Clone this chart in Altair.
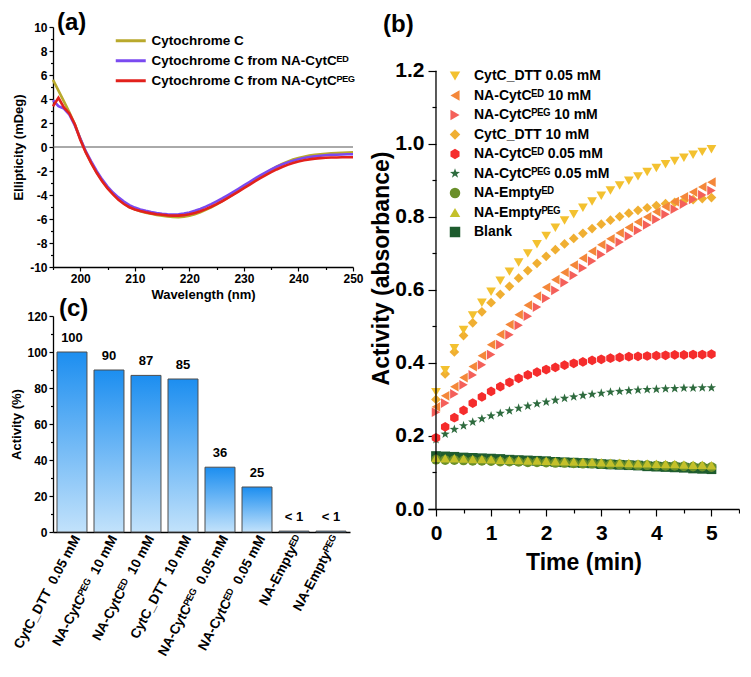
import altair as alt
import pandas as pd

FONT = "Liberation Sans"

# ---------------- Panel (a): CD spectra ----------------
wavelength_nm = list(range(195, 251))
cd_cytc = [5.6, 4.7, 3.8, 2.9, 1.9, 0.7, -0.4, -1.3, -2.1, -2.8,
           -3.4, -3.9, -4.35, -4.7, -5.0, -5.2, -5.35, -5.47, -5.57, -5.66,
           -5.73, -5.79, -5.83, -5.84, -5.8, -5.72, -5.6, -5.44, -5.24, -5.02,
           -4.78, -4.52, -4.24, -3.95, -3.65, -3.35, -3.05, -2.75, -2.45, -2.17,
           -1.9, -1.64, -1.42, -1.22, -1.05, -0.92, -0.81, -0.72, -0.65, -0.6,
           -0.56, -0.53, -0.5, -0.48, -0.46, -0.45]
cd_from_ed = [3.9, 3.4, 3.2, 2.7, 1.8, 0.7, -0.35, -1.2, -2.0, -2.7,
              -3.3, -3.8, -4.2, -4.55, -4.85, -5.05, -5.2, -5.32, -5.42, -5.5,
              -5.56, -5.6, -5.62, -5.6, -5.55, -5.45, -5.32, -5.16, -4.97, -4.76,
              -4.53, -4.29, -4.03, -3.76, -3.48, -3.2, -2.92, -2.64, -2.37, -2.11,
              -1.87, -1.65, -1.46, -1.29, -1.14, -1.02, -0.92, -0.84, -0.78, -0.73,
              -0.69, -0.66, -0.64, -0.62, -0.61, -0.6]
cd_from_peg = [3.4, 4.1, 3.3, 2.8, 1.9, 0.6, -0.45, -1.35, -2.15, -2.85,
               -3.45, -3.95, -4.4, -4.75, -5.02, -5.2, -5.33, -5.44, -5.53, -5.6,
               -5.65, -5.7, -5.72, -5.72, -5.68, -5.6, -5.5, -5.36, -5.18, -4.98,
               -4.76, -4.52, -4.26, -3.99, -3.71, -3.43, -3.15, -2.87, -2.6, -2.34,
               -2.1, -1.87, -1.67, -1.49, -1.34, -1.21, -1.11, -1.03, -0.97, -0.93,
               -0.9, -0.88, -0.87, -0.86, -0.85, -0.85]
a_series = ["Cytochrome C",
            "Cytochrome C from NA-CytC\u1d31\u1d30",
            "Cytochrome C from NA-CytC\u1d3e\u1d31\u1d33"]
a_colors = ["#B9A92C", "#7A4AF0", "#E2211C"]

# ---------------- Panel (b): kinetics ----------------
time_min = [round(i / 6, 4) for i in range(31)]
dtt_005 = [0.32, 0.38, 0.44, 0.49, 0.53, 0.565, 0.595, 0.625, 0.65, 0.675,
           0.70, 0.725, 0.748, 0.77, 0.79, 0.807, 0.825, 0.842, 0.858, 0.872,
           0.886, 0.899, 0.911, 0.923, 0.934, 0.944, 0.953, 0.962, 0.97, 0.978, 0.985]
ed_10 = [0.28, 0.31, 0.335, 0.36, 0.39, 0.42, 0.45, 0.478, 0.505, 0.532,
         0.558, 0.583, 0.607, 0.628, 0.648, 0.668, 0.687, 0.706, 0.724, 0.74,
         0.756, 0.771, 0.786, 0.8, 0.814, 0.828, 0.842, 0.855, 0.868, 0.882, 0.895]
peg_10 = [0.265, 0.29, 0.315, 0.34, 0.367, 0.395, 0.423, 0.45, 0.477, 0.503,
          0.528, 0.553, 0.577, 0.599, 0.62, 0.64, 0.66, 0.679, 0.697, 0.714,
          0.731, 0.747, 0.763, 0.778, 0.793, 0.807, 0.821, 0.835, 0.848, 0.86, 0.872]
dtt_10 = [0.30, 0.37, 0.43, 0.475, 0.51, 0.54, 0.565, 0.588, 0.61, 0.632,
          0.653, 0.673, 0.692, 0.71, 0.726, 0.741, 0.755, 0.768, 0.78, 0.791,
          0.801, 0.81, 0.818, 0.825, 0.831, 0.836, 0.84, 0.844, 0.847, 0.85, 0.853]
ed_005 = [0.195, 0.225, 0.25, 0.27, 0.29, 0.307, 0.322, 0.335, 0.347, 0.358,
          0.367, 0.375, 0.382, 0.388, 0.394, 0.399, 0.403, 0.407, 0.41, 0.413,
          0.415, 0.417, 0.418, 0.419, 0.42, 0.421, 0.422, 0.422, 0.423, 0.423, 0.424]
peg_005 = [0.19, 0.205, 0.218, 0.228, 0.238, 0.247, 0.255, 0.262, 0.269, 0.276,
           0.282, 0.288, 0.293, 0.298, 0.303, 0.307, 0.311, 0.314, 0.317, 0.32,
           0.322, 0.324, 0.326, 0.327, 0.328, 0.329, 0.33, 0.331, 0.331, 0.332, 0.332]
empty_ed = [0.135, 0.134, 0.134, 0.133, 0.132, 0.132, 0.131, 0.130, 0.130, 0.129,
            0.128, 0.128, 0.127, 0.126, 0.126, 0.125, 0.124, 0.124, 0.123, 0.122,
            0.122, 0.121, 0.120, 0.120, 0.119, 0.118, 0.118, 0.117, 0.116, 0.116, 0.115]
empty_peg = [0.14, 0.139, 0.139, 0.138, 0.137, 0.137, 0.136, 0.135, 0.135, 0.134,
             0.133, 0.133, 0.132, 0.131, 0.131, 0.130, 0.129, 0.129, 0.128, 0.127,
             0.127, 0.126, 0.125, 0.125, 0.124, 0.123, 0.123, 0.122, 0.121, 0.121, 0.12]
blank = [0.145, 0.144, 0.143, 0.141, 0.140, 0.139, 0.138, 0.137, 0.135, 0.134,
         0.133, 0.132, 0.131, 0.129, 0.128, 0.127, 0.126, 0.125, 0.123, 0.122,
         0.121, 0.12, 0.119, 0.117, 0.116, 0.115, 0.114, 0.113, 0.111, 0.11, 0.109]

b_series = ["CytC_DTT 0.05 mM", "NA-CytC\u1d31\u1d30 10 mM", "NA-CytC\u1d3e\u1d31\u1d33 10 mM",
            "CytC_DTT 10 mM", "NA-CytC\u1d31\u1d30 0.05 mM", "NA-CytC\u1d3e\u1d31\u1d33 0.05 mM",
            "NA-Empty\u1d31\u1d30", "NA-Empty\u1d3e\u1d31\u1d33", "Blank"]
b_values = [dtt_005, ed_10, peg_10, dtt_10, ed_005, peg_005, empty_ed, empty_peg, blank]
b_colors = ["#F3C130", "#F4873A", "#F4605A", "#F0AF32", "#F52C2C",
            "#2E6B3E", "#6A8F2A", "#C4C02A", "#1E5C2E"]
HEX = "M0,-1L0.866,-0.5L0.866,0.5L0,1L-0.866,0.5L-0.866,-0.5Z"
STAR = ("M0,-1L0.235,-0.324L0.951,-0.309L0.380,0.124L0.588,0.809L0,0.4"
        "L-0.588,0.809L-0.380,0.124L-0.951,-0.309L-0.235,-0.324Z")
b_shapes = ["triangle-down", "triangle-left", "triangle-right", "diamond", HEX,
            STAR, "circle", "triangle-up", "square"]
draw_order = [8, 6, 7, 5, 4, 3, 2, 1, 0]

# ---------------- Panel (c): relative activity ----------------
c_categories = ["CytC_DTT\u00a0\u00a00.05 mM", "NA-CytC\u1d3e\u1d31\u1d33\u00a0\u00a010 mM",
                "NA-CytC\u1d31\u1d30\u00a0\u00a010 mM", "CytC_DTT\u00a0\u00a010 mM",
                "NA-CytC\u1d3e\u1d31\u1d33\u00a0\u00a00.05 mM", "NA-CytC\u1d31\u1d30\u00a0\u00a00.05 mM",
                "NA-Empty\u1d31\u1d30", "NA-Empty\u1d3e\u1d31\u1d33"]
c_activity = [100, 90, 87, 85, 36, 25, 0.5, 0.5]
c_labels = ["100", "90", "87", "85", "36", "25", "< 1", "< 1"]

# ---------------- build tables ----------------
dfa = pd.DataFrame({
    "wl": wavelength_nm * 3,
    "v": cd_cytc + cd_from_ed + cd_from_peg,
    "series": [a_series[0]] * 56 + [a_series[1]] * 56 + [a_series[2]] * 56,
})
rows = []
for k in draw_order:
    for t, v in zip(time_min, b_values[k]):
        rows.append({"t": t, "v": v, "series": b_series[k]})
dfb = pd.DataFrame(rows)
dfc = pd.DataFrame({"cat": c_categories, "act": c_activity, "lab": c_labels})

BOLD = "bold"

# ---------------- chart (a) ----------------
ax_x = alt.X("wl:Q", scale=alt.Scale(domain=[195, 250], nice=False, zero=False),
             axis=alt.Axis(values=list(range(195, 251, 5)),
                           labelExpr="datum.value % 10 == 0 ? toString(datum.value) : ''",
                           tickSize={"condition": {"test": "datum.value % 10 != 0", "value": 2.5}, "value": 4},
                           title="Wavelength (nm)", labelFontSize=12, titleFontSize=13,
                           labelPadding=2, titlePadding=4, labelFlush=False))
ax_y = alt.Y("v:Q", scale=alt.Scale(domain=[-10, 10], nice=False),
             axis=alt.Axis(values=list(range(-10, 11)),
                           labelExpr="datum.value % 2 == 0 ? toString(datum.value) : ''",
                           tickSize={"condition": {"test": "datum.value % 2 != 0", "value": 2.5}, "value": 4},
                           title="Ellipticity (mDeg)", labelFontSize=12, titleFontSize=13,
                           labelPadding=2, titlePadding=4))
a_lines = alt.Chart(dfa).mark_line(strokeWidth=2.6).encode(
    x=ax_x, y=ax_y,
    color=alt.Color("series:N", sort=a_series,
                    scale=alt.Scale(domain=a_series, range=a_colors),
                    legend=alt.Legend(title=None, orient="none", legendX=71, legendY=7,
                                      symbolType="M-3,0H3", symbolSize=100, symbolStrokeWidth=3,
                                      labelFontSize=13.5, labelFontWeight=BOLD, labelOffset=14,
                                      rowPadding=5, padding=0, labelLimit=400)),
)
a_zero = alt.Chart(pd.DataFrame({"v": [0.0]})).mark_rule(color="#555555", strokeWidth=1).encode(y=ax_y)
chart_a = alt.layer(a_zero, a_lines).properties(
    width=300, height=240,
    title=alt.TitleParams("(a)", anchor="start", frame="group", dx=4, offset=-14,
                          fontSize=24, fontWeight=BOLD, font=FONT, color="black"))

# ---------------- chart (c) ----------------
cx = alt.X("cat:N", sort=c_categories,
           scale=alt.Scale(domain=c_categories, paddingInner=0.19, paddingOuter=0.108),
           axis=alt.Axis(title=None, labelAngle=298, labelAlign="right", labelBaseline="middle",
                         labelFontSize=13.5, labelPadding=4, labelOffset=5, ticks=False,
                         labelLimit=300))
cy = alt.Y("act:Q", scale=alt.Scale(domain=[0, 120], nice=False),
           axis=alt.Axis(values=list(range(0, 121, 10)),
                         labelExpr="datum.value % 20 == 0 ? toString(datum.value) : ''",
                         tickSize={"condition": {"test": "datum.value % 20 != 0", "value": 2.5}, "value": 4},
                         title="Activity (%)", labelFontSize=12, titleFontSize=13,
                         labelPadding=2, titlePadding=3))
grad = {"gradient": "linear", "x1": 0, "x2": 0, "y1": 0, "y2": 1,
        "stops": [{"offset": 0, "color": "#1C8EF0"}, {"offset": 1, "color": "#C2E2FB"}]}
c_bars = alt.Chart(dfc).mark_bar(color=grad, stroke="#4D4D4D", strokeWidth=1).encode(x=cx, y=cy)
c_text = alt.Chart(dfc).mark_text(dy=-7, baseline="bottom", fontSize=13, fontWeight=BOLD,
                                  font=FONT, color="black").encode(x=cx, y=cy, text="lab:N")
chart_c = alt.layer(c_bars, c_text).properties(
    width=297, height=216,
    title=alt.TitleParams("(c)", anchor="start", frame="group", dx=6, offset=-11,
                          fontSize=24, fontWeight=BOLD, font=FONT, color="black"))

# ---------------- chart (b) ----------------
bx = alt.X("t:Q", scale=alt.Scale(domain=[-0.145, 5.5], nice=False, zero=False),
           axis=alt.Axis(values=[0, 0.5, 1, 1.5, 2, 2.5, 3, 3.5, 4, 4.5, 5, 5.5],
                         labelExpr="datum.value % 1 == 0 ? toString(datum.value) : ''",
                         tickSize={"condition": {"test": "datum.value % 1 != 0", "value": 4}, "value": 7},
                         title="Time (min)", labelFontSize=21, titleFontSize=23,
                         labelPadding=6, titlePadding=8, labelFlush=False))
by = alt.Y("v:Q", scale=alt.Scale(domain=[0, 1.32], nice=False),
           axis=alt.Axis(values=[0.0, 0.1, 0.2, 0.3, 0.4, 0.5, 0.6, 0.7, 0.8, 0.9, 1.0, 1.1, 1.2],
                         labelExpr="round(datum.value * 10) % 2 == 0 ? format(datum.value, '.1f') : ''",
                         tickSize={"condition": {"test": "round(datum.value * 10) % 2 == 1", "value": 4}, "value": 8},
                         title="Activity (absorbance)", labelFontSize=21, titleFontSize=23,
                         labelPadding=4, titlePadding=1, offset=-8, domain=False))
b_legend = alt.Legend(title=None, orient="none", legendX=20, legendY=42,
                      symbolSize=110, symbolStrokeWidth=0, labelFontSize=14,
                      labelFontWeight=BOLD, labelOffset=12, rowPadding=5.5,
                      padding=0, labelLimit=400)
b_points = alt.Chart(dfb).mark_point(filled=True, opacity=1, size=95).encode(
    x=bx, y=by,
    color=alt.Color("series:N", sort=b_series,
                    scale=alt.Scale(domain=b_series, range=b_colors), legend=b_legend),
    shape=alt.Shape("series:N", sort=b_series,
                    scale=alt.Scale(domain=b_series, range=b_shapes), legend=b_legend),
)
b_axisline = alt.Chart(pd.DataFrame({"t": [0.0], "v": [0.0], "v2": [1.2]})).mark_rule(
    color="black", strokeWidth=1.3).encode(x=bx, y=by, y2="v2:Q")
chart_b = alt.layer(b_points, b_axisline).properties(
    width=311, height=482,
    title=alt.TitleParams("(b)", anchor="start", frame="group", dx=-45, offset=-10,
                          fontSize=24, fontWeight=BOLD, font=FONT, color="black"))

left = alt.vconcat(chart_a, chart_c, spacing=-4).resolve_scale(
    color="independent", shape="independent").resolve_legend(color="independent", shape="independent")
chart = alt.hconcat(left, chart_b, spacing=6).resolve_scale(
    color="independent", shape="independent").resolve_legend(
    color="independent", shape="independent").properties(
    padding={"left": 2, "top": 3, "right": 0, "bottom": 0}
).configure_axis(
    labelFont=FONT, titleFont=FONT, labelFontWeight=BOLD, titleFontWeight=BOLD,
    labelColor="black", titleColor="black", domainColor="black", tickColor="black",
    domainWidth=1.3, tickWidth=1.2, grid=False,
).configure_legend(labelFont=FONT, labelColor="black").configure_view(stroke=None)

chart.save("out.html", embed_options={"renderer": "svg", "actions": False})
